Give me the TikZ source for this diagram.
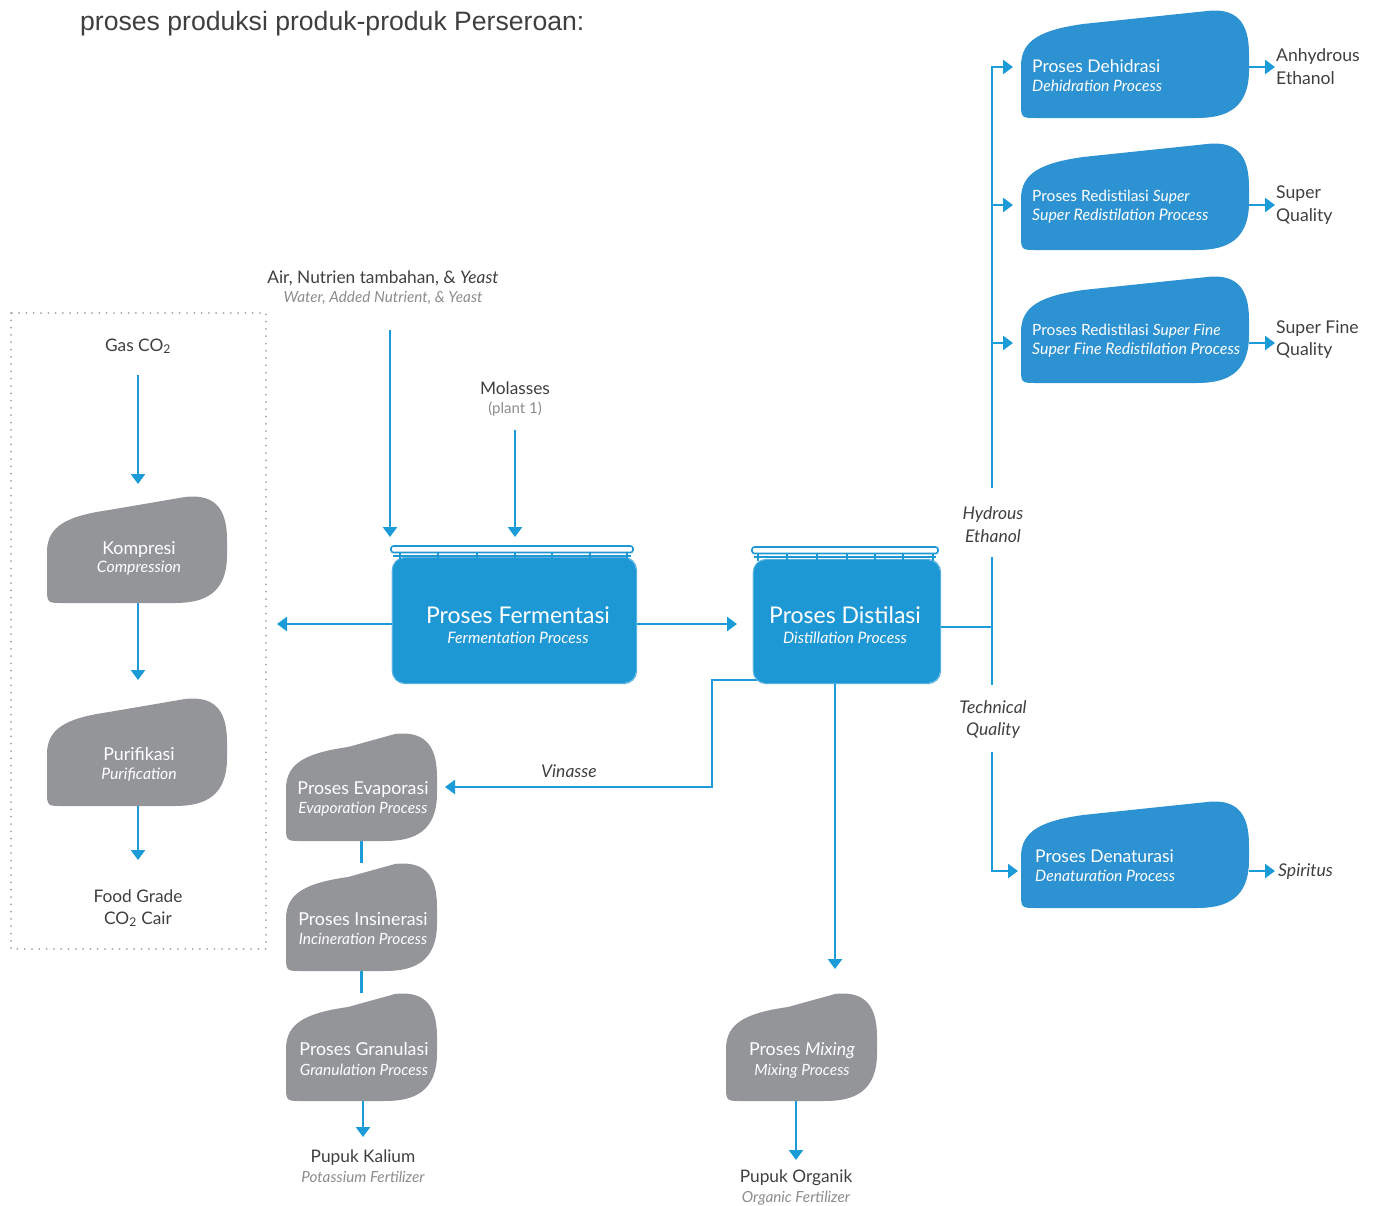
\documentclass[tikz,border=0pt]{standalone}
\usepackage{fontspec}
\setmainfont{Lato}
\newfontfamily\titlefont{Liberation Sans}
\usetikzlibrary{arrows.meta}
\definecolor{lineblue}{HTML}{1B9BD7}
\definecolor{boxblue}{HTML}{2D92D1}
\definecolor{tankblue}{HTML}{1E97D5}
\definecolor{boxgrey}{HTML}{939598}
\definecolor{txtdark}{HTML}{3F3F3F}
\definecolor{txtgrey}{HTML}{8C8C8C}
\definecolor{dotgrey}{HTML}{A3A3A3}
\newcommand\fs[1]{\fontsize{#1}{#1}\selectfont}
% blob: x y w h colour
\newcommand\blobfill[5]{%
\fill[#5] (#1,{#2+#4-16}) -- (#1,{#2+56}) .. controls (#1,{#2+30}) and ({#1+20},{#2+20}) .. ({#1+62},{#2+14})
 -- ({#1+#3-42},{#2+1}) .. controls ({#1+#3-8},{#2-3}) and ({#1+#3},{#2+18}) .. ({#1+#3},{#2+44})
 -- ({#1+#3},{#2+#4-48}) .. controls ({#1+#3},{#2+#4-10}) and ({#1+#3-22},{#2+#4}) .. ({#1+#3-52},{#2+#4})
 -- ({#1+16},{#2+#4}) .. controls (#1,{#2+#4}) .. (#1,{#2+#4-16}) -- cycle;}
\begin{document}
\begin{tikzpicture}[x=1pt,y=-1pt,
  arr/.style={draw=lineblue,line width=2.6pt,-{Triangle[width=14pt,length=10pt]}},
  ln/.style={draw=lineblue,line width=2.6pt},
  t/.style={inner sep=0pt,anchor=base},
  tw/.style={inner sep=0pt,anchor=base west},
  dk/.style={text=txtdark},
  gy/.style={text=txtgrey},
  wh/.style={text=white},
  area/.style={inner sep=0pt,draw=none},
  grid/.style={draw=tankblue,line width=1.6pt},
  sketch/.style={draw=tankblue!75!white,line width=1pt,rounded corners=13pt},
]
\useasboundingbox (0,0) rectangle (1379,1205);

% ---------- invisible areas of the boxes ----------
\node[area,minimum width=180pt,minimum height=107pt] (komp) at (137,549.5) {};
\node[area,minimum width=180pt,minimum height=108pt] (puri) at (137,752) {};
\node[area,minimum width=244pt,minimum height=125pt] (ferm) at (514,620.5) {};
\node[area,minimum width=187pt,minimum height=123pt] (dist) at (846.5,621.5) {};
\node[area,minimum width=228pt,minimum height=108pt] (dehi) at (1135,64) {};
\node[area,minimum width=228pt,minimum height=107pt] (sup) at (1135,196.5) {};
\node[area,minimum width=228pt,minimum height=107pt] (supf) at (1135,329.5) {};
\node[area,minimum width=228pt,minimum height=107pt] (denat) at (1135,854.5) {};
\node[area,minimum width=151pt,minimum height=108pt] (evap) at (361.5,787) {};
\node[area,minimum width=151pt,minimum height=108pt] (insin) at (361.5,917) {};
\node[area,minimum width=151pt,minimum height=108pt] (gran) at (361.5,1047) {};
\node[area,minimum width=151pt,minimum height=108pt] (mix) at (801.5,1047) {};

% ---------- outside labels ----------
\node[tw,dk,font=\titlefont\fs{26.6}] (title) at (80,30) {proses produksi produk-produk Perseroan:};
\node[t,dk,font=\fs{17.3}] (gas) at (138,351) {Gas CO\textsubscript{2}};
\node[t,dk,font=\fs{17.3}] (food1) at (138,902) {Food Grade};
\node[t,dk,font=\fs{17.3}] (food2) at (138,924) {CO\textsubscript{2} Cair};
\node[t,dk,font=\fs{17.3}] (air1) at (383,283) {Air, Nutrien tambahan, \& \textit{Yeast}};
\node[t,gy,font=\fs{15.3}\itshape] (air2) at (383,302) {Water, Added Nutrient, \& Yeast};
\node[t,dk,font=\fs{17.3}] (mol1) at (515,394) {Molasses};
\node[t,gy,font=\fs{15}] (mol2) at (515,413) {(plant 1)};
\node[t,dk,font=\fs{17.5}\itshape] (hyd1) at (993,519) {Hydrous};
\node[t,dk,font=\fs{17.5}\itshape] (hyd2) at (993,542) {Ethanol};
\node[t,dk,font=\fs{17.5}\itshape] (tec1) at (993,713) {Technical};
\node[t,dk,font=\fs{17.5}\itshape] (tec2) at (993,735) {Quality};
\node[tw,dk,font=\fs{17.6}] (anh1) at (1276,61) {Anhydrous};
\node[tw,dk,font=\fs{17.6}] (anh2) at (1276,84) {Ethanol};
\node[tw,dk,font=\fs{17.6}] (sq1) at (1276,198) {Super};
\node[tw,dk,font=\fs{17.6}] (sq2) at (1276,221) {Quality};
\node[tw,dk,font=\fs{17.6}] (sf1) at (1276,333) {Super Fine};
\node[tw,dk,font=\fs{17.6}] (sf2) at (1276,355) {Quality};
\node[tw,dk,font=\fs{17.6}\itshape] (spir) at (1278,876) {Spiritus};
\node[t,dk,font=\fs{17.5}\itshape] (vin) at (569,777) {Vinasse};
\node[t,dk,font=\fs{17.3}] (kal1) at (363,1162) {Pupuk Kalium};
\node[t,gy,font=\fs{15.3}\itshape] (kal2) at (363,1182) {Potassium Fertilizer};
\node[t,dk,font=\fs{17.3}] (org1) at (796,1182) {Pupuk Organik};
\node[t,gy,font=\fs{15.3}\itshape] (org2) at (796,1202) {Organic Fertilizer};

% ---------- dotted frame ----------
\draw[dotgrey,line width=2pt,line cap=round,dash pattern=on 0pt off 7.3pt] (11,313) rectangle (266,949);

% ---------- named free ends ----------
\coordinate (gasS) at (138,375);
\coordinate (kompTip) at (138,484);
\coordinate (puriTip) at (138,680);
\coordinate (foodTip) at (138,860);
\coordinate (airS) at (390,330);
\coordinate (airTip) at (390,537);
\coordinate (molS) at (515,430);
\coordinate (molTip) at (515,537);
\coordinate (co2Tip) at (277,624);
\coordinate (distTip) at (737,624);
\coordinate (sp) at (992,627);
\coordinate (hydTop) at (992,557);
\coordinate (tecBot) at (992,685);
\coordinate (trunkB) at (992,488);
\coordinate (tecTop) at (992,752);
\coordinate (in1) at (1013,67);
\coordinate (in2) at (1013,205);
\coordinate (in3) at (1013,343);
\coordinate (in4) at (1018,871);
\coordinate (vinS) at (757,680);
\coordinate (vinC) at (712,787);
\coordinate (evTip) at (445,787);
\coordinate (mixS) at (835,683);
\coordinate (mixTip) at (835,969);
\coordinate (kalTip) at (363,1137);
\coordinate (orgTip) at (796,1160);

% ---------- connectors ----------
\draw[arr] (gasS) -- (kompTip);
\draw[arr] (gasS |- komp.south) -- (puriTip);
\draw[arr] (gasS |- puri.south) -- (foodTip);
\draw[arr] (airS) -- (airTip);
\draw[arr] (molS) -- (molTip);
\draw[arr] (ferm.west |- co2Tip) -- (co2Tip);
\draw[arr] (ferm.east |- distTip) -- (distTip);
\draw[ln] (dist.east |- sp) -- (sp);
\draw[ln] (hydTop) -- (tecBot);
\draw[arr] (trunkB) -- (trunkB |- in1) -- (in1);
\draw[arr] (trunkB |- in2) -- (in2);
\draw[arr] (trunkB |- in3) -- (in3);
\draw[arr] (tecTop) |- (in4);
\draw[arr] (dehi.east |- in1) -- ([xshift=-1pt]anh1.west |- in1);
\draw[arr] (sup.east |- in2) -- ([xshift=-1pt]sq1.west |- in2);
\draw[arr] (supf.east |- in3) -- ([xshift=-1pt]sf1.west |- in3);
\draw[arr] (denat.east |- in4) -- ([xshift=-3pt]spir.west |- in4);
\draw[arr] (vinS) -| (vinC) -- (evTip);
\draw[arr] (mixS) -- (mixTip);
\draw[ln] (evap.south) -- (insin.north);
\draw[ln] (insin.south) -- (gran.north);
\draw[arr] (gran.south -| kalTip) -- (kalTip);
\draw[arr] (mix.south -| orgTip) -- (orgTip);

% ---------- shapes ----------
\blobfill{47}{496}{180}{107}{boxgrey}
\blobfill{47}{698}{180}{108}{boxgrey}
\blobfill{286}{733}{151}{108}{boxgrey}
\blobfill{286}{863}{151}{108}{boxgrey}
\blobfill{286}{993}{151}{108}{boxgrey}
\blobfill{726}{993}{151}{108}{boxgrey}
\blobfill{1021}{10}{228}{108}{boxblue}
\blobfill{1021}{143}{228}{107}{boxblue}
\blobfill{1021}{276}{228}{107}{boxblue}
\blobfill{1021}{801}{228}{107}{boxblue}

% tanks
\fill[tankblue,rounded corners=13pt] (ferm.south west) rectangle (ferm.north east);
\draw[sketch] ([shift={(0.5pt,-0.5pt)}]ferm.south west) rectangle ([shift={(0.5pt,0.5pt)}]ferm.north east);
\draw[grid,rounded corners=2.5pt] (391,546) rectangle (633,552.5);
\draw[grid] (393,556) -- (631,556);
\foreach \x in {400,438,477,515,552,590,627} \draw[grid] (\x,552) -- (\x,559);
\fill[tankblue,rounded corners=13pt] (dist.south west) rectangle (dist.north east);
\draw[sketch] ([shift={(0.5pt,-0.5pt)}]dist.south west) rectangle ([shift={(0.5pt,0.5pt)}]dist.north east);
\draw[grid,rounded corners=2.5pt] (752,547) rectangle (938,553.5);
\draw[grid] (754,557) -- (936,557);
\foreach \x in {758,787,817,847,875,903,933} \draw[grid] (\x,553) -- (\x,561);

% ---------- texts inside boxes ----------
\node[t,wh,font=\fs{17.8}] (kompA) at (139,554) {Kompresi};
\node[t,wh,font=\fs{15.8}\itshape] (kompB) at (139,572) {Compression};
\node[t,wh,font=\fs{17.8}] (puriA) at (139,760) {Purifikasi};
\node[t,wh,font=\fs{15.8}\itshape] (puriB) at (139,779) {Purification};
\node[t,wh,font=\fs{23}] (fermA) at (518,623) {Proses Fermentasi};
\node[t,wh,font=\fs{15.8}\itshape] (fermB) at (518,643) {Fermentation Process};
\node[t,wh,font=\fs{23}] (distA) at (845,623) {Proses Distilasi};
\node[t,wh,font=\fs{15.8}\itshape] (distB) at (845,643) {Distillation Process};
\node[tw,wh,font=\fs{17.5}] (dehiA) at (1032,72) {Proses Dehidrasi};
\node[tw,wh,font=\fs{15.7}\itshape] (dehiB) at (1032,91) {Dehidration Process};
\node[tw,wh,font=\fs{15.5}] (supA) at (1032,201) {Proses Redistilasi \textit{Super}};
\node[tw,wh,font=\fs{15.9}\itshape] (supB) at (1032,220) {Super Redistilation Process};
\node[tw,wh,font=\fs{15.5}] (supfA) at (1032,335) {Proses Redistilasi \textit{Super Fine}};
\node[tw,wh,font=\fs{15.9}\itshape] (supfB) at (1032,354) {Super Fine Redistilation Process};
\node[tw,wh,font=\fs{17.5}] (denA) at (1035,862) {Proses Denaturasi};
\node[tw,wh,font=\fs{15.7}\itshape] (denB) at (1035,881) {Denaturation Process};
\node[t,wh,font=\fs{17.8}] (evA) at (363,794) {Proses Evaporasi};
\node[t,wh,font=\fs{15.5}\itshape] (evB) at (363,813) {Evaporation Process};
\node[t,wh,font=\fs{17.8}] (inA) at (363,925) {Proses Insinerasi};
\node[t,wh,font=\fs{15.5}\itshape] (inB) at (363,944) {Incineration Process};
\node[t,wh,font=\fs{17.8}] (grA) at (364,1055) {Proses Granulasi};
\node[t,wh,font=\fs{15.5}\itshape] (grB) at (364,1075) {Granulation Process};
\node[t,wh,font=\fs{17.8}] (mxA) at (802,1055) {Proses \textit{Mixing}};
\node[t,wh,font=\fs{15.5}\itshape] (mxB) at (802,1075) {Mixing Process};
\end{tikzpicture}
\end{document}
